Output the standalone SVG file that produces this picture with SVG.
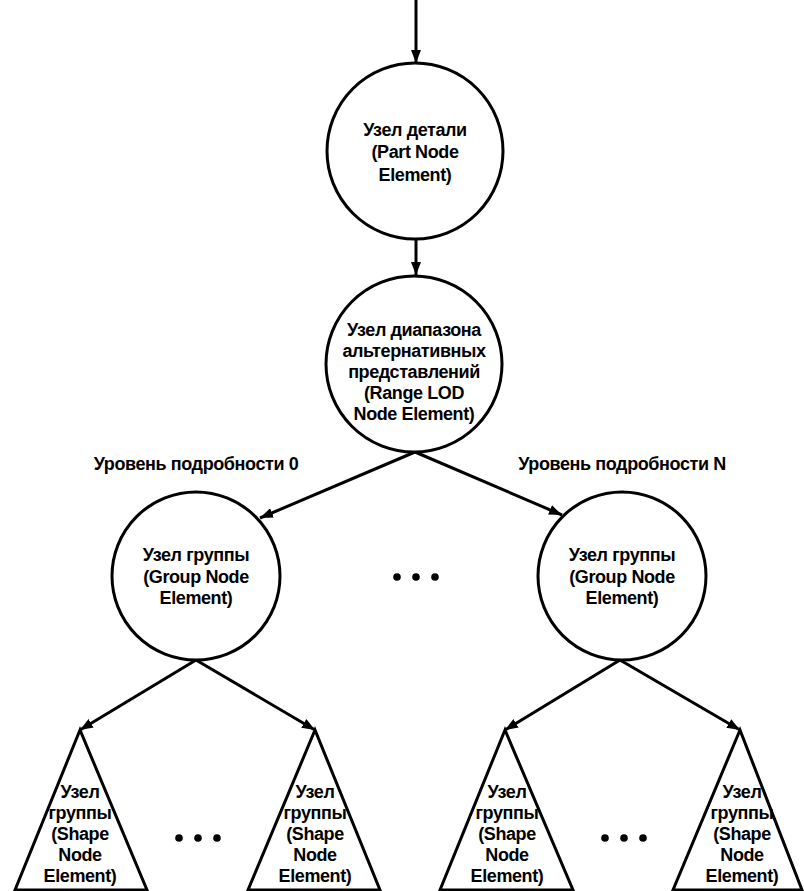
<svg xmlns="http://www.w3.org/2000/svg" width="804" height="891" viewBox="0 0 804 891">
<style>
.n{fill:#fff;stroke:#000;stroke-width:3}
.c{fill:none;stroke:#000;stroke-width:3}
.t{font-family:"Liberation Sans",Arial,sans-serif;font-weight:bold;font-size:18px;fill:#000;text-anchor:middle;letter-spacing:-0.4px}
.d{fill:#000}
</style>
<defs>
<marker id="ah" markerUnits="userSpaceOnUse" markerWidth="13" markerHeight="10" refX="13" refY="5" orient="auto">
<path d="M0,0 L13,5 L0,10 z" fill="#000"/>
</marker>
</defs>
<rect width="804" height="891" fill="#fff"/>
<g id="connectors">
<line class="c" x1="416" y1="0" x2="416" y2="63" marker-end="url(#ah)"/>
<line class="c" x1="416" y1="239" x2="416" y2="275" marker-end="url(#ah)"/>
<line class="c" x1="415" y1="452" x2="260" y2="518" marker-end="url(#ah)"/>
<line class="c" x1="415" y1="452" x2="562" y2="515" marker-end="url(#ah)"/>
<line class="c" x1="196" y1="660" x2="80" y2="730" marker-end="url(#ah)"/>
<line class="c" x1="196" y1="660" x2="315" y2="730" marker-end="url(#ah)"/>
<line class="c" x1="620" y1="660" x2="505" y2="730" marker-end="url(#ah)"/>
<line class="c" x1="620" y1="660" x2="740" y2="730" marker-end="url(#ah)"/>
</g>
<g id="part-node">
<circle class="n" cx="415" cy="151" r="88"/>
<text class="t" x="415" y="136">Узел детали</text>
<text class="t" x="415" y="158">(Part Node</text>
<text class="t" x="415" y="181">Element)</text>
</g>
<g id="range-lod-node">
<circle class="n" cx="414" cy="364" r="88"/>
<text class="t" x="414" y="336">Узел диапазона</text>
<text class="t" x="414" y="357">альтернативных</text>
<text class="t" x="414" y="378">представлений</text>
<text class="t" x="414" y="399">(Range LOD</text>
<text class="t" x="414" y="420">Node Element)</text>
</g>
<g id="label-0"><text class="t" x="196" y="470">Уровень подробности 0</text></g>
<g id="label-n"><text class="t" x="622" y="470">Уровень подробности N</text></g>
<g id="group-left">
<circle class="n" cx="196" cy="576" r="84"/>
<text class="t" x="196" y="561">Узел группы</text>
<text class="t" x="196" y="583">(Group Node</text>
<text class="t" x="196" y="604">Element)</text>
</g>
<g id="group-right">
<circle class="n" cx="622" cy="576" r="84"/>
<text class="t" x="622" y="561">Узел группы</text>
<text class="t" x="622" y="583">(Group Node</text>
<text class="t" x="622" y="604">Element)</text>
</g>
<g id="dots-mid">
<circle class="d" cx="397" cy="577" r="3.8"/><circle class="d" cx="416" cy="577" r="3.8"/><circle class="d" cx="435" cy="577" r="3.8"/>
</g>
<g id="shape-1">
<polygon class="n" points="80,730 15,890 147,890"/>
<text class="t" x="80" y="798">Узел</text>
<text class="t" x="80" y="819">группы</text>
<text class="t" x="80" y="840">(Shape</text>
<text class="t" x="80" y="861">Node</text>
<text class="t" x="80" y="882">Element)</text>
</g>
<g id="shape-2">
<polygon class="n" points="315,730 248,890 380,890"/>
<text class="t" x="315" y="798">Узел</text>
<text class="t" x="315" y="819">группы</text>
<text class="t" x="315" y="840">(Shape</text>
<text class="t" x="315" y="861">Node</text>
<text class="t" x="315" y="882">Element)</text>
</g>
<g id="shape-3">
<polygon class="n" points="505,730 440,890 573,890"/>
<text class="t" x="507" y="798">Узел</text>
<text class="t" x="507" y="819">группы</text>
<text class="t" x="507" y="840">(Shape</text>
<text class="t" x="507" y="861">Node</text>
<text class="t" x="507" y="882">Element)</text>
</g>
<g id="shape-4">
<polygon class="n" points="740,730 673,890 802,890"/>
<text class="t" x="742" y="798">Узел</text>
<text class="t" x="742" y="819">группы</text>
<text class="t" x="742" y="840">(Shape</text>
<text class="t" x="742" y="861">Node</text>
<text class="t" x="742" y="882">Element)</text>
</g>
<g id="dots-left">
<circle class="d" cx="179" cy="838" r="3.8"/><circle class="d" cx="198" cy="838" r="3.8"/><circle class="d" cx="217" cy="838" r="3.8"/>
</g>
<g id="dots-right">
<circle class="d" cx="605" cy="838" r="3.8"/><circle class="d" cx="624" cy="838" r="3.8"/><circle class="d" cx="643" cy="838" r="3.8"/>
</g>
</svg>
